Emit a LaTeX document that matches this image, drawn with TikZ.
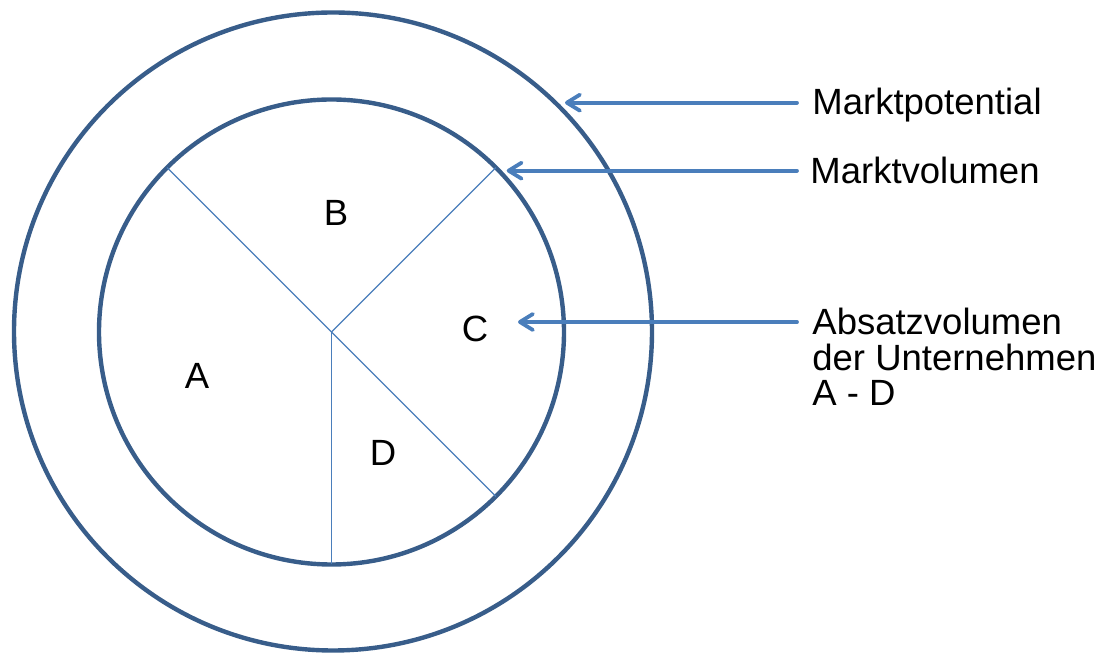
\documentclass[tikz,border=0pt]{standalone}
\usepackage{fontspec}
\setmainfont{Liberation Sans}
\usepackage{xcolor}
\usetikzlibrary{arrows.meta}
\definecolor{ringblue}{RGB}{56,93,138}
\definecolor{arrowblue}{RGB}{74,126,187}
\tikzset{
  ring/.style={draw=ringblue, line width=2.2pt},
  split/.style={draw=arrowblue, line width=0.55pt},
  arr/.style={
    -{Straight Barb[length=6.5pt,width=8pt,round]},
    arrowblue, line width=1.9pt, line cap=round
  },
  lbl/.style={
    inner sep=0pt, anchor=base west, align=left,
    font=\fontsize{18.25}{17.8}\selectfont
  },
  share/.style={inner sep=0pt, font=\fontsize{18.25}{17.8}\selectfont},
}
\begin{document}
\begin{tikzpicture}[x=0.5pt,y=0.5pt]
  \useasboundingbox (0,0) rectangle (1105,653);
  % market circles
  \coordinate (mid) at (331.5,321);
  \draw[ring] (333,321.5) circle[radius=319];
  \draw[ring] (mid) circle[radius=232.5];
  \foreach \ang in {135,45,270,-45}
    \draw[split] (mid) -- ++(\ang:232.5);
  % shares
  \node[share] (a) at (197,277.5) {A};
  \node[share] (b) at (336,440.5) {B};
  \node[share] (c) at (475,324) {C};
  \node[share] (d) at (383,200) {D};
  % labels
  \node[lbl] (pot) at (812,538) {Marktpotential};
  \node[lbl] (vol) at (810,469) {Marktvolumen};
  \node[lbl] (abs) at (812,247) {Absatzvolumen\\der Unternehmen\\A - D};
  \coordinate (potTip) at (565,550.3);
  \coordinate (volTip) at (506.7,482.3);
  \coordinate (absTip) at (518,331);
  \draw[arr] (potTip -| pot.west) ++(-15,0) -- (potTip);
  \draw[arr] (volTip -| vol.west) ++(-13,0) -- (volTip);
  \draw[arr] (absTip -| abs.west) ++(-15,0) -- (absTip);
\end{tikzpicture}
\end{document}
